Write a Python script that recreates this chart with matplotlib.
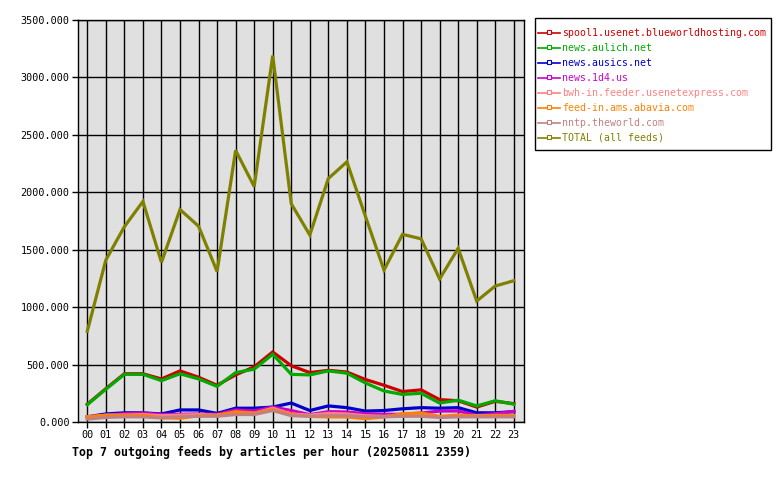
import matplotlib
matplotlib.use("Agg")
import matplotlib.pyplot as plt
from matplotlib.lines import Line2D
from matplotlib.patches import Rectangle

hours = ["%02d" % h for h in range(24)]

spool1 = [155, 290, 420, 420, 375, 445, 390, 320, 410, 480, 610, 490, 430, 450, 435, 370, 320, 265, 280, 195, 185, 130, 180, 160]
aulich = [150, 285, 415, 415, 360, 420, 375, 310, 430, 460, 590, 415, 410, 445, 425, 340, 270, 240, 250, 165, 190, 140, 185, 155]
ausics = [45, 70, 80, 80, 70, 105, 105, 75, 120, 120, 130, 165, 100, 140, 125, 95, 100, 115, 125, 120, 125, 80, 80, 90]
d4 = [40, 58, 72, 78, 64, 67, 70, 67, 105, 96, 130, 100, 64, 90, 87, 72, 67, 67, 78, 95, 96, 58, 72, 93]
bwh = [45, 60, 60, 65, 55, 60, 65, 60, 80, 75, 120, 70, 60, 75, 70, 55, 50, 55, 60, 45, 50, 55, 55, 50]
abavia = [44, 58, 58, 58, 38, 32, 55, 58, 90, 78, 108, 64, 49, 44, 44, 29, 44, 72, 78, 49, 61, 52, 58, 58]
theworld = [25, 40, 45, 45, 35, 45, 50, 50, 65, 65, 100, 55, 50, 55, 55, 45, 45, 50, 50, 40, 45, 45, 45, 45]
total = [790, 1410, 1700, 1920, 1390, 1850, 1705, 1310, 2365, 2050, 3190, 1900, 1628, 2120, 2265, 1790, 1323, 1634, 1595, 1245, 1512, 1053, 1184, 1230]

names = ["spool1.usenet.blueworldhosting.com", "news.aulich.net", "news.ausics.net",
         "news.1d4.us", "bwh-in.feeder.usenetexpress.com", "feed-in.ams.abavia.com",
         "nntp.theworld.com", "TOTAL (all feeds)"]
series = [spool1, aulich, ausics, d4, bwh, abavia, theworld, total]
colors = ["#cc0000", "#00aa00", "#0000cc", "#cc00cc", "#ff8080", "#ff8000", "#c08080", "#808000"]
yticks = [0, 500, 1000, 1500, 2000, 2500, 3000, 3500]
title = "Top 7 outgoing feeds by articles per hour (20250811 2359)"

W, H = 780, 480
mono = "DejaVu Sans Mono"
fig = plt.figure(figsize=(W/100, H/100), dpi=100)
ax = fig.add_axes([78/W, 1-422/H, (524-78)/W, (422-20)/H])
ax.set_facecolor("#e0e0e0")
x = list(range(24))
for s, c in zip(series, colors):
    ax.plot(x, s, color=c, lw=2.3, solid_joinstyle="miter")
ax.set_xlim(-0.5, 23.55)
ax.set_ylim(0, 3500)
ax.set_xticks(x)
ax.set_xticklabels(hours, fontfamily=mono, fontsize=7.3)
ax.set_yticks(yticks)
ax.set_yticklabels(["%.3f" % v for v in yticks], fontfamily=mono, fontsize=7.3)
ax.grid(True, color="black", lw=1)
ax.set_axisbelow(True)
for sp in ax.spines.values():
    sp.set_color("black")
    sp.set_linewidth(1)
ax.tick_params(length=4, width=1, color="black", pad=2)
fig.text(72/W, 1-452/H, title, fontfamily=mono, fontsize=8.4, fontweight="bold",
         va="center", ha="left")

# legend box drawn in figure pixel coordinates
fig.patches.append(Rectangle((535/W, 1-150/H), (771-535)/W, (150-18)/H,
                             transform=fig.transFigure, facecolor="white",
                             edgecolor="black", lw=1))
for i, (n, c) in enumerate(zip(names, colors)):
    yc = 1 - (33 + 15*i)/H
    fig.add_artist(Line2D([538/W, 560/W], [yc, yc], transform=fig.transFigure,
                          color=c, lw=1.2))
    fig.add_artist(Line2D([549/W], [yc + 1/H], transform=fig.transFigure, color=c,
                          marker="s", markersize=2.8, markerfacecolor="white",
                          markeredgecolor=c, markeredgewidth=0.8, lw=0))
    fig.text(562/W, yc, n, color=c, fontfamily=mono, fontsize=7.1, va="center", ha="left")

fig.savefig("out.png", dpi=100)
